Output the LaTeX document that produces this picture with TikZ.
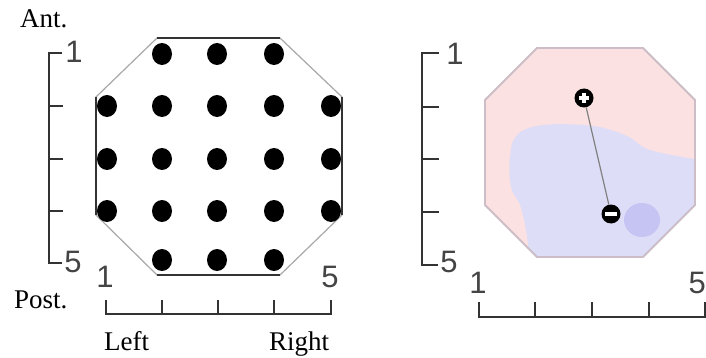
\documentclass[tikz,border=0pt]{standalone}
\usepackage{fontspec}
\setmainfont{Liberation Serif}
\newfontfamily\digitfont{Liberation Sans}
\usetikzlibrary{shapes.geometric}
\definecolor{axis}{HTML}{333333}
\definecolor{digitcol}{HTML}{444444}
\definecolor{octgray}{HTML}{A8A8A8}
\definecolor{pinkfill}{HTML}{FBE1E1}
\definecolor{bluefill}{HTML}{DDDDF8}
\definecolor{blobfill}{HTML}{C6C4F3}
\definecolor{octedge}{HTML}{CDBDC6}
\tikzset{
  dot/.style={ellipse, fill=black, inner sep=0pt, minimum width=20pt, minimum height=22pt},
  axisline/.style={draw=axis, line width=1.5pt},
  digit/.style={anchor=base, inner sep=0pt, text=digitcol, font=\digitfont\fontsize{31}{33}\selectfont},
  label/.style={anchor=base west, inner sep=0pt, font=\fontsize{27}{30}\selectfont},
  electrode/.style={circle, fill=black, inner sep=0pt, minimum size=19pt},
}
\begin{document}
\begin{tikzpicture}[x=1pt,y=-1pt]
\useasboundingbox (0,0) rectangle (706,358);
\fill[white] (0,0) rectangle (706,358);

% ---------- left panel ----------
\draw[octgray, line width=1.2pt] (157,38) -- (280,38) -- (342,97) -- (342,215) -- (280,275) -- (157,275) -- (96,215) -- (96,97) -- cycle;
\draw[axis, line width=1.4pt] (157,38) -- (280,38);
\draw[axis, line width=1.4pt] (157,275) -- (280,275);
\draw[axis, line width=1.4pt] (96,97) -- (96,215);
\draw[axis, line width=1.4pt] (342,97) -- (342,215);

\foreach \c/\x in {2/162,3/217,4/274} {
  \node[dot] (d1\c) at (\x,54) {};
  \node[dot] (d5\c) at (\x,260) {};
}
\foreach \r/\y in {2/106,3/159,4/211} {
  \foreach \c/\x in {1/107,2/162,3/217,4/274,5/331} {
    \node[dot] (d\r\c) at (\x,\y) {};
  }
}

% vertical scale left
\draw[axisline] (62,53) -- (49,53) -- (49,263) -- (62,263);
\foreach \y in {106,159,211} \draw[axisline] (49,\y) -- (63,\y);
% horizontal scale left
\draw[axisline] (106,300) -- (106,314) -- (331,314) -- (331,300);
\foreach \x in {162,218,274} \draw[axisline] (\x,300) -- (\x,314);

\node[digit] (l1v) at (74,63) {1};
\node[digit] (l5v) at (73,272) {5};
\node[digit] (l1h) at (105,287) {1};
\node[digit] (l5h) at (330,287) {5};

\node[label] (ant) at (20,28) {Ant.};
\node[label] (post) at (14,308) {Post.};
\node[label] (left) at (104,350) {Left};
\node[label] (right) at (269,350) {Right};

% ---------- right panel ----------
\begin{scope}
\clip (537,48) -- (643,48) -- (695,100) -- (695,205) -- (643,257) -- (537,257) -- (485,205) -- (485,100) -- cycle;
\fill[pinkfill] (480,40) rectangle (700,265);
\fill[bluefill] plot[smooth, tension=0.6] coordinates {(700,160) (650,150) (627,136) (593,126) (543,125) (517,135) (510,157) (511,187) (520,205) (526,230) (530,262)} -- (700,265) -- cycle;
\fill[blobfill] (642,220) ellipse (18pt and 17pt);
\end{scope}
\draw[octedge, line width=1.8pt] (537,48) -- (643,48) -- (695,100) -- (695,205) -- (643,257) -- (537,257) -- (485,205) -- (485,100) -- cycle;

\node[electrode, path picture={
  \draw[white, line width=3.2pt] (path picture bounding box.center) +(-5,0) -- +(5,0);
  \draw[white, line width=3.2pt] (path picture bounding box.center) +(0,-5) -- +(0,5);
}] (plus) at (584,98) {};
\node[electrode, path picture={
  \draw[white, line width=3.6pt] (path picture bounding box.center) +(-6,0) -- +(6,0);
}] (minus) at (611,214) {};
\draw[gray, line width=1.2pt] (plus) -- (minus);

% vertical scale right
\draw[axisline] (439,53) -- (422,53) -- (422,265) -- (438,265);
\foreach \y in {107,159,212} \draw[axisline] (422,\y) -- (439,\y);
% horizontal scale right
\draw[axisline] (479,302) -- (479,317) -- (705,317) -- (705,302);
\foreach \x in {535,592,649} \draw[axisline] (\x,302) -- (\x,317);

\node[digit] (r1v) at (455,65) {1};
\node[digit] (r5v) at (449,272) {5};
\node[digit] (r1h) at (478,293) {1};
\node[digit, anchor=base east] (r5h) at (706,293) {5};
\end{tikzpicture}
\end{document}
